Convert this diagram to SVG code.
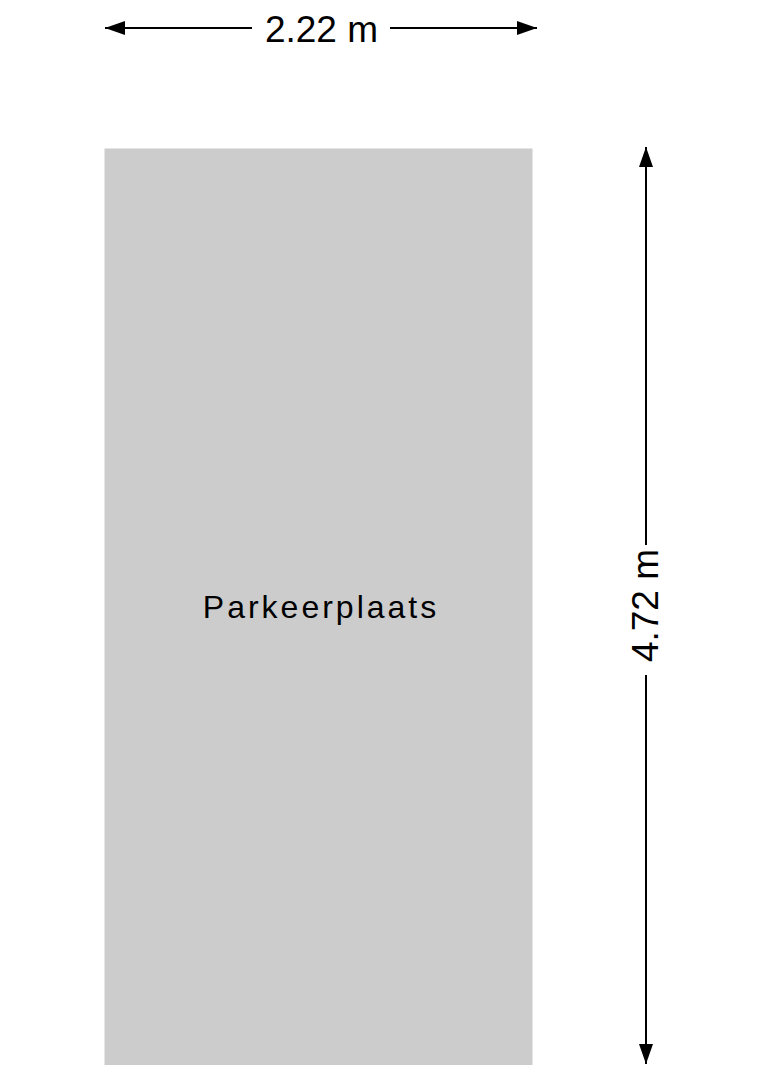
<svg xmlns="http://www.w3.org/2000/svg" width="764" height="1080" viewBox="0 0 764 1080">
<style>
.dim{stroke:#000;stroke-width:2;fill:none}
.lbl{font-family:"Liberation Sans",Arial,sans-serif;fill:#000}
</style>
<defs>
<marker id="ah" viewBox="0 0 20 14" refX="20" refY="7" markerWidth="20" markerHeight="14" markerUnits="userSpaceOnUse" orient="auto">
<path d="M0,0 L20,7 L0,14 Z" fill="#000"/>
</marker>
</defs>
<rect width="764" height="1080" fill="#fff"/>
<g id="parkeerplaats">
<rect x="104.5" y="148.5" width="428" height="916.5" fill="#cccccc"/>
<text class="lbl" x="321" y="618" font-size="32" letter-spacing="3" text-anchor="middle">Parkeerplaats</text>
</g>
<g id="connectors">
<line class="dim" x1="252" y1="28" x2="105" y2="28" marker-end="url(#ah)"/>
<line class="dim" x1="390" y1="28" x2="537" y2="28" marker-end="url(#ah)"/>
<line class="dim" x1="646" y1="545" x2="646" y2="147" marker-end="url(#ah)"/>
<line class="dim" x1="646" y1="675" x2="646" y2="1064" marker-end="url(#ah)"/>
</g>
<g id="dim-width">
<text class="lbl" x="321.5" y="42" font-size="37" text-anchor="middle">2.22 m</text>
</g>
<g id="dim-height">
<text class="lbl" transform="translate(658,605.5) rotate(-90)" font-size="37" text-anchor="middle">4.72 m</text>
</g>
</svg>
